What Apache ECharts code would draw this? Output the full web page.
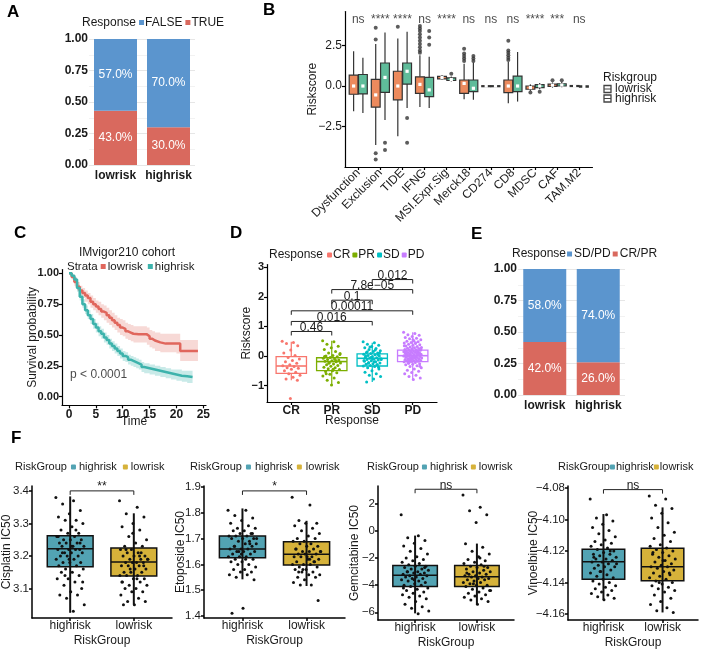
<!DOCTYPE html>
<html><head><meta charset="utf-8">
<script src="https://cdn.jsdelivr.net/npm/echarts@6/dist/echarts.min.js"></script>
<style>html,body{margin:0;padding:0;background:#fff}#c{width:708px;height:650px}</style>
</head><body><div id="c"></div>
<script>
const FONT = '"Liberation Sans", Arial, Helvetica, sans-serif';
const TXT = '#1a1a1a';

// ---------- Panel A ----------
const aCats = ['lowrisk', 'highrisk'];
const aFalse = [0.57, 0.70];
const aTrue = [0.43, 0.30];

// ---------- Panel E ----------
const eCats = ['lowrisk', 'highrisk'];
const eSDPD = [0.58, 0.74];
const eCRPR = [0.42, 0.26];

// ---------- Panel B ----------
const bCats = ['Dysfunction','Exclusion','TIDE','IFNG','MSI.Expr.Sig','Merck18','CD274','CD8','MDSC','CAF','TAM.M2'];
const bSig = ['ns','****','****','ns','****','ns','ns','ns','****','***','ns'];
// [lo, q1, median, q3, hi]
const bLow = [[-1.56,-0.51,0,0.67,2.15],[-3.64,-1.3,-0.55,0.41,2.6],[-3.1,-0.85,0,0.91,2.94],[-1.3,-0.45,0.1,0.57,1.9],[0.38,0.44,0.52,0.6,0.66],[-0.81,-0.45,0.16,0.37,1.38],[-0.05,-0.02,0,0.02,0.05],[-1.06,-0.41,0,0.37,1.48],[-0.3,-0.2,-0.1,0,0.1],[-0.1,-0.02,0.05,0.12,0.22],[-0.06,-0.03,0,0.03,0.06]];
const bHigh = [[-1.67,-0.49,0,0.71,1.75],[-2.1,-0.39,0.53,1.42,3.3],[-1.36,0.12,0.91,1.42,3.35],[-1.36,-0.65,-0.24,0.53,1.8],[0.28,0.34,0.4,0.5,0.58],[-0.85,-0.35,-0.14,0.37,1.45],[-0.05,-0.02,0,0.02,0.05],[-0.96,-0.35,0,0.61,2.1],[-0.2,-0.1,0,0.08,0.18],[-0.08,0,0.06,0.14,0.25],[-0.12,-0.07,-0.03,0.01,0.05]];
const bOutLow = [[],[3.6,2.87,-4.15,-4.53],[3.66],[2.05,2.2,2.4,2.6,2.8,3.0,3.2,3.4,3.55,3.7],[],[1.55,1.7,1.85,2.0,2.3],[],[1.6,1.75,1.9,2.05,2.2,2.8],[-0.4],[0.35],[]];
const bOutHigh = [[],[-3.5,-3.95],[-1.97,-3.5],[2.54,3.0,3.4],[0.75],[1.55,1.7,1.85],[],[],[-0.35],[0.35],[]];

// ---------- Panel C ----------
const cLowT = [0,0.5,1,1.5,2,2.5,3,3.5,4,4.5,5,5.5,6,6.5,7,7.5,8,8.5,9,9.5,10,10.5,11,11.5,12,13,14,14.5,15,15.5,16,17,18,19,20,20.7,21,22,23,24];
const cLowS = [1,.97,.93,.89,.86,.84,.82,.80,.77,.75,.73,.71,.69,.68,.66,.64,.62,.60,.58,.56,.55,.53,.52,.51,.505,.505,.505,.49,.47,.455,.44,.43,.43,.43,.43,.37,.37,.37,.37,.37];
const cLowLo = [1,.95,.90,.86,.82,.80,.77,.75,.72,.70,.68,.66,.64,.62,.60,.58,.56,.54,.52,.50,.49,.47,.46,.45,.44,.44,.44,.42,.40,.39,.37,.36,.36,.36,.35,.29,.29,.29,.29,.29];
const cLowHi = [1,.99,.96,.93,.90,.88,.86,.84,.82,.80,.78,.77,.75,.74,.72,.70,.68,.66,.64,.63,.62,.60,.59,.58,.57,.57,.57,.56,.54,.53,.52,.51,.51,.51,.51,.46,.46,.46,.46,.46];
const cHighT = [0,.5,1,1.5,2,2.5,3,3.5,4,4.5,5,5.5,6,6.5,7,7.5,8,8.5,9,9.5,10,10.5,11,11.5,12,12.5,13,13.5,14,15,16,17,18,19,20,21,22,23];
const cHighS = [1,.98,.95,.88,.81,.75,.70,.66,.63,.59,.56,.53,.51,.48,.46,.43,.41,.39,.37,.35,.33,.32,.30,.29,.28,.27,.26,.24,.23,.22,.21,.20,.19,.18,.17,.165,.16,.16];
const cHighLo = [1,.97,.93,.85,.78,.72,.67,.63,.59,.55,.52,.49,.47,.44,.42,.39,.37,.35,.33,.31,.29,.28,.26,.25,.24,.23,.22,.20,.19,.18,.17,.16,.15,.14,.13,.12,.11,.11];
const cHighHi = [1,.99,.97,.91,.85,.79,.74,.70,.67,.63,.60,.57,.55,.52,.50,.47,.45,.43,.41,.39,.37,.36,.34,.33,.32,.31,.30,.28,.27,.26,.25,.24,.23,.22,.22,.21,.21,.21];

// ---------- Panel D ----------
const dCats = ['CR','PR','SD','PD'];
const dBox = [[-0.82,-0.59,-0.34,-0.02,0.48],[-1.02,-0.5,-0.19,-0.06,0.52],[-0.88,-0.34,-0.08,0.07,0.45],[-0.8,-0.19,0.01,0.2,0.8]];
const dCR = [0.5,0.46,0.42,0.35,0.2,0.1,0.02,-0.05,-0.1,-0.15,-0.2,-0.25,-0.3,-0.33,-0.36,-0.4,-0.42,-0.45,-0.5,-0.55,-0.6,-0.65,-0.72,-0.78,-0.82,-1.44];
const dPR = [0.52,0.48,0.4,0.33,0.28,0.22,0.15,0.1,0.05,0.02,0,-0.03,-0.05,-0.08,-0.1,-0.12,-0.14,-0.16,-0.18,-0.2,-0.22,-0.24,-0.27,-0.3,-0.32,-0.35,-0.38,-0.4,-0.43,-0.46,-0.5,-0.53,-0.57,-0.62,-0.68,-0.75,-0.82,-0.9,-0.98,-0.02,-0.15,-0.25,0.08,-0.45,-0.6];
const dSD = [0.48,0.45,0.4,0.36,0.32,0.28,0.25,0.22,0.18,0.15,0.12,0.1,0.08,0.06,0.04,0.02,0,-0.02,-0.04,-0.06,-0.08,-0.09,-0.1,-0.12,-0.14,-0.16,-0.18,-0.2,-0.22,-0.24,-0.26,-0.28,-0.3,-0.32,-0.34,-0.36,-0.4,-0.44,-0.5,-0.55,-0.6,-0.65,-0.7,-0.78,-0.88,0.05,-0.05,-0.15,0.2,-0.25,0.1,-0.1,0.0,-0.3,0.3,-0.12,-0.2,0.14,-0.38,-0.06];
const dPD = [0.8,0.76,0.72,0.7,0.66,0.63,0.6,0.58,0.55,0.52,0.5,0.48,0.46,0.44,0.42,0.4,0.38,0.36,0.34,0.32,0.3,0.29,0.28,0.26,0.25,0.24,0.22,0.21,0.2,0.19,0.18,0.17,0.16,0.15,0.14,0.13,0.12,0.11,0.1,0.09,0.08,0.07,0.06,0.05,0.04,0.03,0.02,0.01,0,-0.01,-0.02,-0.03,-0.04,-0.05,-0.06,-0.07,-0.08,-0.09,-0.1,-0.11,-0.12,-0.13,-0.14,-0.15,-0.16,-0.17,-0.18,-0.19,-0.2,-0.22,-0.24,-0.26,-0.28,-0.3,-0.33,-0.36,-0.4,-0.44,-0.48,-0.52,-0.56,-0.6,-0.65,-0.7,-0.75,-0.8,0.05,0.1,0.15,0.0,-0.05,0.02,0.08,-0.1,0.12,0.18,-0.15,0.22,-0.02,0.03,0.06,-0.08,0.35,0.45,-0.25,-0.35,0.55,0.01,0.07,-0.12];
const dPvals = [[1,2,0.83,'0.46'],[1,3,1.17,'0.016'],[1,4,1.53,'0.00011'],[2,3,1.89,'0.1'],[2,4,2.25,'7.8e\u221205'],[3,4,2.59,'0.012']];

// ---------- Panel F ----------
const fCats = ['highrisk','lowrisk'];
const fNames = ['Cisplatin IC50','Etoposide IC50','Gemcitabine IC50','Vinoelbine IC50'];
const fSig = ['**','*','ns','ns'];
const fBoxHigh = [[3.025,3.167,3.222,3.262,3.383],[1.542,1.626,1.66,1.71,1.817],[-6.08,-4.1,-3.27,-2.54,-0.34],[-4.151,-4.138,-4.1268,-4.1189,-4.0965]];
const fBoxLow = [[3.05,3.138,3.181,3.224,3.331],[1.516,1.598,1.639,1.688,1.769],[-5.4,-4.1,-3.37,-2.54,-0.93],[-4.159,-4.1389,-4.13,-4.1183,-4.0923]];
const fBracketY = [3.40, 1.885, 3.08, -4.081];
const f1High = [3.38,3.37,3.36,3.34,3.33,3.32,3.31,3.31,3.30,3.29,3.28,3.27,3.27,3.26,3.26,3.25,3.25,3.25,3.24,3.24,3.24,3.23,3.23,3.23,3.22,3.22,3.22,3.22,3.21,3.21,3.21,3.20,3.20,3.20,3.19,3.19,3.18,3.18,3.18,3.17,3.17,3.16,3.16,3.15,3.15,3.14,3.13,3.13,3.12,3.11,3.10,3.09,3.08,3.08,3.07,3.05,3.03,3.21,3.24,3.19,3.26,3.28,3.14,3.12,3.23];
const f1Low = [3.37,3.35,3.33,3.32,3.30,3.29,3.28,3.26,3.25,3.24,3.23,3.23,3.22,3.22,3.21,3.21,3.20,3.20,3.20,3.19,3.19,3.19,3.18,3.18,3.18,3.18,3.17,3.17,3.17,3.16,3.16,3.15,3.15,3.15,3.14,3.14,3.14,3.13,3.13,3.12,3.12,3.11,3.11,3.10,3.10,3.09,3.09,3.08,3.07,3.06,3.06,3.05,3.05,3.21,3.16,3.19,3.13,3.22,3.17,3.27,3.12,3.2];
const f2High = [1.81,1.81,1.79,1.78,1.77,1.76,1.75,1.74,1.74,1.73,1.73,1.72,1.72,1.71,1.71,1.71,1.70,1.70,1.70,1.69,1.69,1.68,1.68,1.67,1.67,1.66,1.66,1.66,1.65,1.65,1.65,1.64,1.64,1.63,1.63,1.63,1.62,1.62,1.61,1.61,1.60,1.60,1.59,1.58,1.58,1.57,1.57,1.56,1.56,1.55,1.54,1.43,1.41,1.68,1.65,1.7,1.62,1.67,1.72,1.64];
const f2Low = [1.86,1.83,1.77,1.76,1.76,1.75,1.74,1.73,1.72,1.71,1.70,1.70,1.69,1.69,1.68,1.68,1.67,1.67,1.66,1.66,1.65,1.65,1.65,1.64,1.64,1.64,1.63,1.63,1.63,1.62,1.62,1.61,1.61,1.60,1.60,1.60,1.59,1.59,1.58,1.58,1.57,1.57,1.56,1.56,1.55,1.55,1.54,1.53,1.52,1.52,1.46,1.63,1.66,1.61,1.58,1.65,1.62,1.57];
const f3High = [1.2,-0.35,-0.5,-0.7,-0.9,-1.1,-1.3,-1.5,-1.7,-1.9,-2.0,-2.1,-2.2,-2.3,-2.4,-2.5,-2.6,-2.6,-2.7,-2.8,-2.8,-2.9,-3.0,-3.0,-3.1,-3.1,-3.2,-3.2,-3.3,-3.3,-3.4,-3.4,-3.5,-3.5,-3.6,-3.7,-3.7,-3.8,-3.9,-4.0,-4.0,-4.1,-4.2,-4.3,-4.4,-4.5,-4.6,-4.7,-4.8,-4.9,-5.0,-5.2,-5.4,-5.6,-5.7,-5.9,-6.1,-3.0,-2.7,-3.6,-4.2];
const f3Low = [2.66,1.76,1.5,1.2,0.63,-0.95,-1.2,-1.5,-1.7,-1.9,-2.1,-2.2,-2.3,-2.4,-2.5,-2.6,-2.7,-2.7,-2.8,-2.9,-3.0,-3.0,-3.1,-3.2,-3.2,-3.3,-3.3,-3.4,-3.4,-3.5,-3.5,-3.6,-3.6,-3.7,-3.8,-3.8,-3.9,-4.0,-4.0,-4.1,-4.2,-4.3,-4.4,-4.5,-4.6,-4.7,-4.8,-4.9,-5.0,-5.1,-5.2,-5.4,-3.1,-2.6,-3.9,-4.4,-2.0];
const f4High = [-4.087,-4.097,-4.099,-4.101,-4.103,-4.105,-4.107,-4.109,-4.111,-4.113,-4.114,-4.115,-4.116,-4.117,-4.118,-4.119,-4.12,-4.121,-4.122,-4.122,-4.123,-4.124,-4.125,-4.125,-4.126,-4.127,-4.127,-4.128,-4.129,-4.13,-4.13,-4.131,-4.132,-4.133,-4.134,-4.135,-4.136,-4.137,-4.138,-4.139,-4.14,-4.141,-4.142,-4.143,-4.144,-4.145,-4.146,-4.147,-4.148,-4.149,-4.15,-4.151,-4.124,-4.12,-4.133,-4.128];
const f4Low = [-4.085,-4.087,-4.091,-4.093,-4.096,-4.099,-4.102,-4.105,-4.108,-4.11,-4.112,-4.114,-4.116,-4.117,-4.118,-4.119,-4.12,-4.121,-4.122,-4.123,-4.124,-4.125,-4.126,-4.127,-4.128,-4.129,-4.13,-4.13,-4.131,-4.132,-4.133,-4.134,-4.135,-4.136,-4.137,-4.138,-4.139,-4.14,-4.141,-4.142,-4.143,-4.144,-4.145,-4.146,-4.148,-4.15,-4.152,-4.154,-4.156,-4.158,-4.159,-4.126,-4.121,-4.134,-4.14];
const fPts = [[f1High,f1Low],[f2High,f2Low],[f3High,f3Low],[f4High,f4Low]];

// ---------- styles ----------
const colA = {blue:'#5B95CE', red:'#D9695E'};
const colB = {low:'#EC8A5D', high:'#5FBC9A'};
const colC = {low:'#E0665C', high:'#3DB3AC'};
const colD = ['#F8766D','#7CAE00','#00BFC4','#C77CFF'];
const colF = {high:'#52A3B3', low:'#D6B23A'};

const chart = echarts.init(document.getElementById('c'), null, {renderer:'canvas'});

const mctx = document.createElement('canvas').getContext('2d');
function tw(t, fs){ mctx.font = fs + 'px ' + FONT; return mctx.measureText(t).width; }
function mfmt(d){ return v => (v < -1e-9 ? '\u2212' : '') + Math.abs(v).toFixed(d); }
function jit(i){ return ((i * 0.6180339887) % 1) - 0.5; }

function legendRow(x, y, title, items, o){
  const fs = o.fs || 12, els = [];
  els.push({type:'text', x:x, y:y, style:{text:title, fontSize:fs, fontFamily:FONT, fill:TXT, verticalAlign:'middle'}});
  let cx = x + tw(title, fs) + o.g1;
  items.forEach(it => {
    els.push({type:'rect', shape:{x:cx, y:y - o.icon/2, width:o.icon, height:o.icon, r:o.r || 0}, style:{fill:it.color, stroke:it.stroke || null, lineWidth:1}});
    cx += o.icon + o.g2;
    els.push({type:'text', x:cx, y:y, style:{text:it.name, fontSize:fs, fontFamily:FONT, fill:TXT, verticalAlign:'middle'}});
    cx += tw(it.name, fs) + o.g3;
  });
  return els;
}

function valAxis(o){
  return {
    gridIndex:o.g, type:'value', min:o.min, max:o.max,
    axisLine:{show:o.line !== false, onZero:false, lineStyle:{color:'#000', width:o.lw || 1.2}},
    axisTick:{show:o.tick !== false, length:3, customValues:o.vals, lineStyle:{color:'#000', width:o.lw || 1.2}},
    axisLabel:{customValues:o.vals, formatter:o.fmt, fontSize:o.fs || 12, fontFamily:FONT, color:TXT,
      fontWeight:o.bold ? 'bold' : 'normal', margin:o.margin != null ? o.margin : 3, rotate:o.rotate || 0, interval:0, hideOverlap:false},
    splitLine:{show:false},
    name:o.name || '', nameLocation:'middle', nameGap:o.gap || 20, nameRotate:o.nameRotate || 0,
    nameMoveOverlap:false,
    nameTextStyle:{fontSize:12, fontFamily:FONT, color:TXT}
  };
}

// custom box renderer
function boxSeries(g, data, o){
  return {
    type:'custom', xAxisIndex:g, yAxisIndex:g, silent:true, z:o.z || 3,
    data:data,
    renderItem:function(params, api){
      const x = api.value(0), lo = api.value(1), q1 = api.value(2), md = api.value(3), q3 = api.value(4), hi = api.value(5);
      const hw = o.w / 2;
      const tl = api.coord([x - hw, q3]), br = api.coord([x + hw, q1]);
      const top = api.coord([x, hi]), bot = api.coord([x, lo]), mid = api.coord([x, md]);
      const cx = top[0];
      const ls = {stroke:o.whisker, lineWidth:o.wl};
      const ch = [];
      if (!o.through){
        ch.push({type:'line', shape:{x1:cx, y1:top[1], x2:cx, y2:tl[1]}, style:ls});
        ch.push({type:'line', shape:{x1:cx, y1:br[1], x2:cx, y2:bot[1]}, style:ls});
      }
      ch.push({type:'rect', shape:{x:tl[0], y:tl[1], width:br[0] - tl[0], height:Math.max(br[1] - tl[1], 1)},
        style:{fill:o.fill, stroke:o.stroke, lineWidth:o.bl}});
      if (o.through){
        ch.push({type:'line', shape:{x1:cx, y1:top[1], x2:cx, y2:bot[1]}, style:ls});
      }
      if (o.medMarker){
        ch.push({type:'rect', shape:{x:cx - 1.6, y:mid[1] - 1.6, width:3.2, height:3.2}, style:{fill:'#fff'}});
      } else {
        ch.push({type:'line', shape:{x1:tl[0], y1:mid[1], x2:br[0], y2:mid[1]}, style:{stroke:o.stroke, lineWidth:o.ml}});
      }
      return {type:'group', children:ch};
    }
  };
}

function bracketSeries(g, items, tick, fs){
  return {
    type:'custom', xAxisIndex:g, yAxisIndex:g, silent:true, z:6,
    data:items.map(it => [it[0], it[1], it[2]]),
    renderItem:function(params, api){
      const it = items[params.dataIndex];
      const p1 = api.coord([api.value(0), api.value(2)]), p2 = api.coord([api.value(1), api.value(2)]);
      return {type:'group', children:[
        {type:'polyline', shape:{points:[[p1[0], p1[1] + tick], [p1[0], p1[1]], [p2[0], p2[1]], [p2[0], p2[1] + tick]]},
          style:{stroke:'#222', lineWidth:1, fill:'none'}},
        {type:'text', x:(p1[0] + p2[0]) / 2, y:p1[1] + 2,
          style:{text:it[3], fontSize:fs || 12, fontFamily:FONT, fill:TXT, align:'center', verticalAlign:'bottom'}}
      ]};
    }
  };
}

function bandSeries(g, t, lo, hi, color){
  return {
    type:'custom', xAxisIndex:g, yAxisIndex:g, silent:true, z:2,
    data:[[t[0], lo[0]]],
    renderItem:function(params, api){
      const up = [], dn = [];
      for (let i = 0; i < t.length; i++){
        const tn = i + 1 < t.length ? t[i + 1] : t[i];
        up.push(api.coord([t[i], hi[i]]), api.coord([tn, hi[i]]));
        dn.push(api.coord([t[i], lo[i]]), api.coord([tn, lo[i]]));
      }
      return {type:'polygon', shape:{points:up.concat(dn.reverse())}, style:{fill:color}};
    }
  };
}

function jitterSeries(g, x, vals, color, size, w){
  return {
    type:'scatter', xAxisIndex:g, yAxisIndex:g, silent:true, z:5,
    symbolSize:size, itemStyle:{color:color, opacity:1},
    data:vals.map((v, i) => [x + jit(i) * w, v])
  };
}

// ---------- grids ----------
const grids = [
  {left:89, top:39, width:106, height:126},          // 0 A
  {left:345, top:11.5, width:247.5, height:155.5},   // 1 B
  {left:62, top:269.6, width:144, height:135.7},     // 2 C
  {left:267, top:264.5, width:170, height:137.5},    // 3 D
  {left:518, top:269, width:107, height:126},        // 4 E
  {left:30, top:486, width:142, height:132},         // 5 F1
  {left:204, top:486, width:141, height:132},        // 6 F2
  {left:378, top:486, width:136, height:135},        // 7 F3
  {left:568, top:486, width:130, height:134}         // 8 F4
];

const barY = g => ({gridIndex:g, type:'value', min:0, max:1, interval:0.25,
  axisLine:{show:false}, axisTick:{show:false},
  axisLabel:{formatter:v => v.toFixed(2), fontSize:12, fontWeight:'bold', fontFamily:FONT, color:TXT, margin:1},
  splitLine:{show:true, lineStyle:{color:'#e6e6e6', width:1}},
  minorTick:{show:false, splitNumber:2},
  minorSplitLine:{show:true, lineStyle:{color:'#f2f2f2', width:1}}});
const barX = (g, cats) => ({gridIndex:g, type:'category', data:cats,
  axisLine:{show:false}, axisTick:{show:false},
  axisLabel:{fontSize:12, fontWeight:'bold', fontFamily:FONT, color:TXT, margin:5, interval:0, hideOverlap:false},
  splitLine:{show:false}});

const xAxes = [
  barX(0, aCats),
  valAxis({g:1, min:0.4, max:11.6, vals:[1,2,3,4,5,6,7,8,9,10,11], fmt:v => bCats[Math.round(v) - 1], rotate:45, margin:4}),
  valAxis({g:2, min:-1.3, max:25.5, vals:[0,5,10,15,20,25], fmt:v => String(v), bold:true, name:'Time', gap:10}),
  valAxis({g:3, min:0.4, max:4.6, vals:[1,2,3,4], fmt:v => dCats[Math.round(v) - 1], bold:true, name:'Response', gap:13}),
  barX(4, eCats)
];
const yAxes = [
  barY(0),
  valAxis({g:1, min:-5, max:4.6, vals:[-2.5,0,2.5], fmt:mfmt(1), name:'Riskscore', nameRotate:90, gap:26}),
  valAxis({g:2, min:-0.07, max:1.03, vals:[0,0.25,0.5,0.75,1], fmt:mfmt(2), bold:true, fs:11, name:'Survival probability', nameRotate:90, gap:23}),
  valAxis({g:3, min:-1.56, max:3.1, vals:[-1,0,1,2,3], fmt:mfmt(0), bold:true, fs:11, name:'Riskscore', nameRotate:90, gap:14}),
  barY(4)
];
const fY = [
  {min:3.009, max:3.415, vals:[3.1,3.2,3.3,3.4], d:1, gap:19},
  {min:1.392, max:1.904, vals:[1.4,1.5,1.6,1.7,1.8,1.9], d:1, gap:17},
  {min:-6.57, max:3.32, vals:[-6,-4,-2,0,2], d:0, gap:17},
  {min:-4.1638, max:-4.0787, vals:[-4.16,-4.14,-4.12,-4.10,-4.08], d:2, gap:28}
];
for (let k = 0; k < 4; k++){
  const g = 5 + k;
  xAxes.push(valAxis({g:g, min:0.4, max:2.6, vals:[1,2], fmt:v => fCats[Math.round(v) - 1], lw:1.5, name:'RiskGroup', gap:17, margin:2}));
  yAxes.push(valAxis({g:g, min:fY[k].min, max:fY[k].max, vals:fY[k].vals, fmt:mfmt(fY[k].d), lw:1.5, fs:11.5, name:fNames[k], nameRotate:90, gap:fY[k].gap}));
}

// ---------- series ----------
const series = [];
const pctLabel = {show:true, position:'inside', color:'#fff', fontSize:12, fontFamily:FONT, formatter:p => (p.value * 100).toFixed(1) + '%'};
// A
series.push({type:'bar', xAxisIndex:0, yAxisIndex:0, stack:'a', barWidth:43, data:aTrue, itemStyle:{color:colA.red}, label:pctLabel, silent:true});
series.push({type:'bar', xAxisIndex:0, yAxisIndex:0, stack:'a', barWidth:43, data:aFalse, itemStyle:{color:colA.blue}, label:pctLabel, silent:true});
// E
series.push({type:'bar', xAxisIndex:4, yAxisIndex:4, stack:'e', barWidth:43, data:eCRPR, itemStyle:{color:colA.red}, label:pctLabel, silent:true});
series.push({type:'bar', xAxisIndex:4, yAxisIndex:4, stack:'e', barWidth:43, data:eSDPD, itemStyle:{color:colA.blue}, label:pctLabel, silent:true});

// B
const bOff = 0.21, bW = 0.4;
series.push(boxSeries(1, bLow.map((b, i) => [i + 1 - bOff].concat(b)), {w:bW, fill:colB.low, stroke:'#333', whisker:'#333', wl:1.2, bl:1.2, medMarker:true}));
series.push(boxSeries(1, bHigh.map((b, i) => [i + 1 + bOff].concat(b)), {w:bW, fill:colB.high, stroke:'#333', whisker:'#333', wl:1.2, bl:1.2, medMarker:true}));
const bOut = [];
bOutLow.forEach((arr, i) => arr.forEach(v => bOut.push([i + 1 - bOff, v])));
bOutHigh.forEach((arr, i) => arr.forEach(v => bOut.push([i + 1 + bOff, v])));
series.push({type:'scatter', xAxisIndex:1, yAxisIndex:1, symbolSize:4, itemStyle:{color:'#333'}, data:bOut, silent:true, z:4});
series.push({type:'scatter', xAxisIndex:1, yAxisIndex:1, symbolSize:0, silent:true, z:6,
  data:bSig.map((s, i) => ({value:[i + 1, 4.1], name:s})),
  label:{show:true, position:'inside', formatter:p => p.name, fontSize:12, fontFamily:FONT, color:TXT}});

// C
series.push(bandSeries(2, cLowT, cLowLo, cLowHi, 'rgba(224,102,92,0.25)'));
series.push(bandSeries(2, cHighT, cHighLo, cHighHi, 'rgba(61,179,172,0.28)'));
series.push({type:'line', xAxisIndex:2, yAxisIndex:2, step:'end', symbol:'none', silent:true, z:3,
  data:cLowT.map((t, i) => [t, cLowS[i]]), lineStyle:{color:colC.low, width:2.5}});
series.push({type:'line', xAxisIndex:2, yAxisIndex:2, step:'end', symbol:'none', silent:true, z:3,
  data:cHighT.map((t, i) => [t, cHighS[i]]), lineStyle:{color:colC.high, width:2.5}});
series.push({type:'scatter', xAxisIndex:2, yAxisIndex:2, symbolSize:0, silent:true, z:6,
  data:[{value:[0.2, 0.18], name:'p < 0.0001'}],
  label:{show:true, position:'right', distance:0, formatter:p => p.name, fontSize:12, fontFamily:FONT, color:TXT}});

// D
const dPts = [dCR, dPR, dSD, dPD];
dBox.forEach((b, i) => {
  series.push(boxSeries(3, [[i + 1].concat(b)], {w:0.75, fill:'rgba(255,255,255,0)', stroke:colD[i], whisker:colD[i], wl:1.2, bl:1.3, ml:1.6}));
  series.push(jitterSeries(3, i + 1, dPts[i], colD[i], 3, 0.45));
});
series.push(bracketSeries(3, dPvals, 4, 12));

// F
for (let k = 0; k < 4; k++){
  const g = 5 + k;
  series.push(boxSeries(g, [[1].concat(fBoxHigh[k])], {w:0.72, fill:colF.high, stroke:'#111', whisker:'#111', wl:2, bl:1.5, ml:1.5, through:true}));
  series.push(boxSeries(g, [[2].concat(fBoxLow[k])], {w:0.72, fill:colF.low, stroke:'#111', whisker:'#111', wl:2, bl:1.5, ml:1.5, through:true}));
  series.push(jitterSeries(g, 1, fPts[k][0], '#111', 3, 0.45));
  series.push(jitterSeries(g, 2, fPts[k][1], '#111', 3, 0.45));
  series.push(bracketSeries(g, [[1, 2, fBracketY[k], fSig[k]]], 4, 12));
}

// ---------- graphic (panel letters, legends, titles) ----------
const graphic = [];
[['A',7,4],['B',263,2],['C',14,225],['D',230,225],['E',471,226],['F',11,430]].forEach(l => {
  graphic.push({type:'text', x:l[1], y:l[2], style:{text:l[0], fontSize:17, fontWeight:'bold', fontFamily:FONT, fill:'#000'}});
});
graphic.push(...legendRow(82, 22.5, 'Response', [{name:'FALSE', color:colA.blue}, {name:'TRUE', color:colA.red}], {fs:12, icon:5, g1:3, g2:1, g3:3}));
graphic.push({type:'text', x:603, y:78, style:{text:'Riskgroup', fontSize:12, fontFamily:FONT, fill:TXT, verticalAlign:'middle'}});
[['lowrisk', 89], ['highrisk', 98.5]].forEach(it => {
  graphic.push({type:'rect', shape:{x:604, y:it[1] - 3.5, width:7, height:7}, style:{fill:'#fff', stroke:'#444', lineWidth:1.3}});
  graphic.push({type:'line', shape:{x1:604, y1:it[1], x2:611, y2:it[1]}, style:{stroke:'#444', lineWidth:1}});
  graphic.push({type:'text', x:615, y:it[1], style:{text:it[0], fontSize:12, fontFamily:FONT, fill:TXT, verticalAlign:'middle'}});
});
graphic.push({type:'text', x:127, y:253, style:{text:'IMvigor210 cohort', fontSize:12, fontFamily:FONT, fill:TXT, align:'center', verticalAlign:'middle'}});
graphic.push(...legendRow(67, 266.5, 'Strata', [{name:'lowrisk', color:colC.low}, {name:'highrisk', color:colC.high}], {fs:11.5, icon:5, g1:3, g2:2, g3:5}));
graphic.push(...legendRow(269, 255, 'Response', dCats.map((c, i) => ({name:c, color:colD[i]})), {fs:12, icon:5, g1:4, g2:1, g3:2, r:1}));
graphic.push(...legendRow(512, 254, 'Response', [{name:'SD/PD', color:colA.blue}, {name:'CR/PR', color:colA.red}], {fs:12, icon:5, g1:1, g2:2, g3:2}));
const fLeg = [[15, {g1:4, g2:3, g3:6}], [190, {g1:4, g2:4, g3:4}], [367, {g1:3, g2:3, g3:3}], [558, {g1:0, g2:1, g3:0}]];
fLeg.forEach(fl => {
  graphic.push(...legendRow(fl[0], 467, 'RiskGroup', [{name:'highrisk', color:colF.high}, {name:'lowrisk', color:colF.low}],
    Object.assign({fs:11, icon:5, r:1}, fl[1])));
});

chart.setOption({
  animation:false,
  backgroundColor:'#fff',
  textStyle:{fontFamily:FONT},
  grid:grids,
  xAxis:xAxes,
  yAxis:yAxes,
  series:series,
  graphic:graphic
});
</script>
</body></html>
